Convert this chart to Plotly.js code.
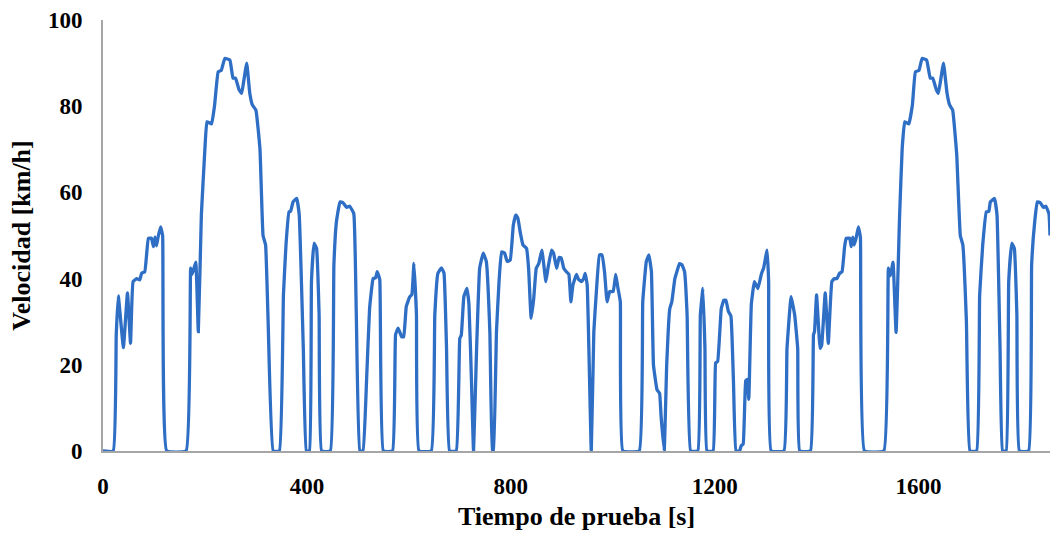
<!DOCTYPE html>
<html>
<head>
<meta charset="utf-8">
<script src="https://cdn.plot.ly/plotly-3.0.1.min.js"></script>
<style>html,body{margin:0;padding:0;background:#fff;}#chart{width:1051px;height:534px;}</style>
</head>
<body>
<div id="chart"></div>
<script>
const tiempo = [0, 20, 26, 30, 40, 48, 54, 59, 66, 72, 76, 82, 89, 95, 99, 102, 105, 108, 113, 117, 125,
  163, 172, 175, 182, 187, 193, 200, 204, 213, 219, 226, 232, 239, 249, 255, 260, 267, 272, 276, 282, 288, 293, 300, 308, 314, 319, 324, 334,
  346, 354, 359, 365, 368, 373, 380, 385, 393, 399,
  405, 409, 414, 419, 424, 429,
  446, 453, 458, 465, 471, 478, 484, 492, 497, 504,
  510, 517, 523, 530, 535, 538, 543, 550,
  568, 574, 579, 586, 590, 595, 602, 606, 610, 615, 620,
  644, 651, 657, 664, 669, 674, 680,
  693, 700, 703, 708, 714, 718, 723, 727, 733, 739, 746, 752, 759, 764,
  766, 772, 777, 782, 788, 793, 799, 805, 810, 814, 819, 824, 831, 835, 840, 845, 850, 855, 861, 869, 873, 880, 884, 890, 895, 899, 904, 909, 914, 918, 922, 929, 933, 939, 943, 946, 950, 958,
  963, 968, 974, 979, 984, 989, 994, 1001, 1006, 1010, 1015, 1020,
  1052, 1059, 1066, 1071, 1076, 1080, 1087, 1092, 1095, 1101,
  1106, 1112, 1116, 1122, 1126, 1131, 1136, 1141, 1146, 1153,
  1167, 1172, 1177, 1181, 1185,
  1197, 1202, 1206, 1213, 1218, 1222, 1227, 1232, 1237, 1242,
  1249, 1252, 1256, 1261, 1264, 1267, 1272, 1278, 1285, 1292, 1296, 1303, 1306, 1311,
  1336, 1342, 1350, 1357, 1363, 1367,
  1388, 1394, 1396, 1400, 1407, 1410, 1417, 1423, 1430, 1435, 1440, 1445, 1450, 1455, 1458, 1465, 1468, 1471, 1474, 1478, 1482, 1486, 1494,
  1532, 1541, 1545, 1550, 1556, 1563, 1568, 1573, 1581, 1588, 1594, 1601, 1607, 1616, 1623, 1628, 1635, 1639, 1643, 1649, 1656, 1661, 1667, 1675, 1682, 1687, 1694, 1701,
  1714, 1720, 1726, 1733, 1738, 1741, 1749, 1754, 1760, 1765,
  1772, 1777, 1783, 1788, 1793, 1798,
  1816, 1822, 1828, 1833, 1839, 1845, 1850, 1856, 1858];
const velocidad = [0, 0, 27, 36, 24, 36.7, 25, 39.3, 40, 39.7, 41.3, 41.6, 49.3, 49.4, 47.4, 49.6, 47.6, 49.6, 52, 50, 0,
  0, 42.4, 41, 43.8, 27.7, 54.8, 70.2, 76.4, 75.9, 80.3, 88, 88.3, 91.1, 90.7, 86.5, 86.5, 83.8, 83, 85.7, 90, 83, 80.3, 79.1, 70, 50, 47.8, 30, 0,
  0, 36.2, 47.8, 55.5, 55.6, 57.8, 58.6, 54.8, 23.8, 0,
  0, 39.3, 48.2, 47, 31.6, 0,
  0, 43.2, 53.2, 57.8, 57.6, 56.5, 56.8, 55.1, 31.6, 0,
  0, 16, 33, 40, 40.2, 41.6, 39.8, 0,
  0, 27, 28.5, 26.5, 26.5, 33.5, 35.8, 36.3, 43.5, 31.6, 0,
  0, 31.6, 41.2, 42.5, 41.3, 23.8, 0,
  0, 26.1, 26.9, 35.8, 37.7, 34, 16, 0, 23.8, 42.4, 45.9, 44, 27.7, 0,
  0, 27.7, 39.3, 46.2, 45.9, 44, 44.3, 52.4, 54.8, 54, 50.5, 47.8, 47, 42.4, 30.8, 35.3, 42.4, 43.5, 46.6, 39.3, 42.4, 46.6, 45.9, 42.4, 44.9, 44.8, 42.4, 41.6, 41, 34.6, 38.5, 41, 39.8, 39.3, 40, 41.2, 38.5, 0,
  27.7, 37, 45.5, 45.5, 41.6, 34.6, 37, 37, 41, 38, 34.6, 0,
  0, 34.6, 44, 45.5, 41.6, 20, 14.2, 13.4, 8, 0,
  20, 33, 34.6, 40, 41.6, 43.5, 43.2, 41.6, 31.6, 0,
  0, 31.6, 37.7, 23.8, 0,
  0, 20.4, 20.8, 33, 35, 35, 32.4, 31.3, 16, 0,
  0, 1.2, 1.6, 16.3, 16.6, 12, 34, 39.3, 37.7, 41.2, 42.4, 46.6, 39.3, 0,
  0, 23.8, 35.8, 31.6, 23.8, 0,
  0, 27, 27.7, 36.2, 23.8, 24.5, 36.7, 25, 39.3, 40, 40, 41.2, 41.6, 47.4, 49.3, 49.4, 47.4, 49.6, 47.8, 49.6, 52, 49.6, 0,
  0, 42.4, 40.7, 43.8, 27.5, 54.8, 70.2, 76.4, 75.9, 80.3, 88, 88.3, 91.1, 90.7, 86.5, 86.5, 83.8, 83, 85.7, 90, 83, 80.3, 79.1, 68.7, 50, 47.8, 30, 0,
  0, 36.2, 47.8, 55.5, 55.6, 57.8, 58.6, 54.8, 23.8, 0,
  0, 39.3, 48.2, 47, 31.6, 0,
  0, 43.2, 53.2, 57.8, 57.6, 56.5, 56.8, 55, 50];
const xTicks = [0, 400, 800, 1200, 1600];
const yTicks = [0, 20, 40, 60, 80, 100];

const fontFam = '"Liberation Serif", "Times New Roman", serif';
const trace = {
  x: tiempo, y: velocidad, type: 'scatter', mode: 'lines',
  line: {color: '#2e6ec4', width: 3.3, shape: 'spline', smoothing: 0.3},
  hoverinfo: 'skip'
};
const layout = {
  width: 1051, height: 534,
  margin: {l: 103, r: 1, t: 20, b: 83},
  paper_bgcolor: '#fff', plot_bgcolor: '#fff',
  showlegend: false,
  font: {family: fontFam, color: '#000', size: 23, weight: 'bold'},
  xaxis: {
    range: [0, 1858], tickvals: xTicks, ticktext: xTicks.map(String),
    showgrid: false, zeroline: false, showline: true, linecolor: '#a6a6a6', linewidth: 2,
    ticks: '', ticklabelstandoff: 13,
    tickfont: {family: fontFam, size: 23, color: '#000', weight: 'bold'},
    title: {text: 'Tiempo de prueba [s]', font: {family: fontFam, size: 26, color: '#000', weight: 'bold'}, standoff: 9}
  },
  yaxis: {
    range: [0, 100], tickvals: yTicks, ticktext: yTicks.map(String),
    showgrid: false, zeroline: false, showline: true, linecolor: '#a6a6a6', linewidth: 2,
    ticks: '', ticklabelstandoff: 14,
    tickfont: {family: fontFam, size: 23, color: '#000', weight: 'bold'},
    title: {text: 'Velocidad [km/h]', font: {family: fontFam, size: 26, color: '#000', weight: 'bold'}, standoff: 10}
  }
};
Plotly.newPlot('chart', [trace], layout, {staticPlot: true, displayModeBar: false});
</script>
</body>
</html>
